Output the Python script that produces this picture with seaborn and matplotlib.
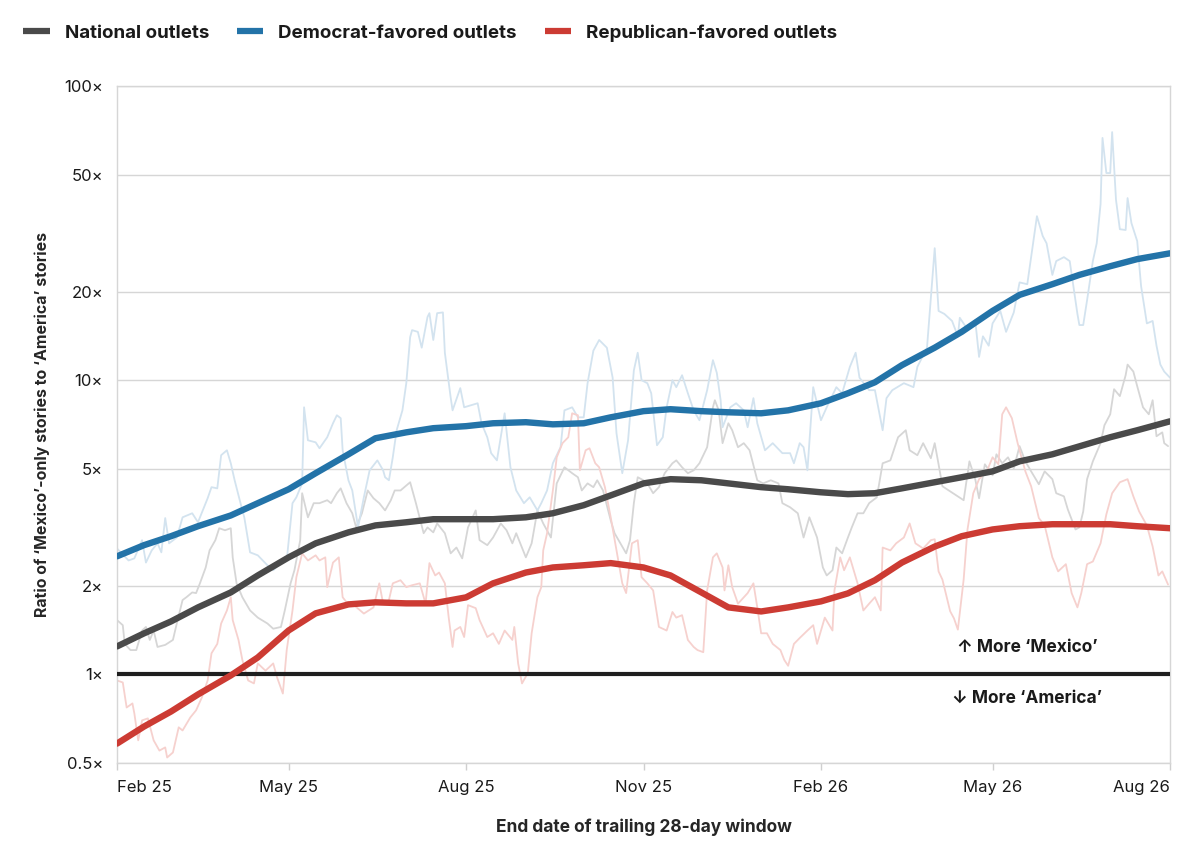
import numpy as np
import pandas as pd
import matplotlib
matplotlib.use("Agg")
import matplotlib.pyplot as plt
import matplotlib.dates as mdates
from matplotlib.lines import Line2D
from matplotlib.ticker import FixedLocator, NullLocator
import seaborn as sns

start = pd.Timestamp("2025-02-01")
end = pd.Timestamp("2026-08-01")

# smoothed trend lines, read on the 1st and 15th of every month
trend_dates = pd.date_range(start, end, freq="SMS")
national_trend = [1.245, 1.379, 1.514, 1.690, 1.900, 2.17, 2.50, 2.79, 3.04, 3.21,
                  3.29, 3.37, 3.37, 3.37, 3.42, 3.53, 3.76, 4.06, 4.46, 4.61,
                  4.57, 4.46, 4.33, 4.26, 4.16, 4.10, 4.13, 4.29, 4.50, 4.68,
                  4.90, 5.30, 5.60, 5.96, 6.40, 6.76, 7.25]
dem_trend = [2.52, 2.75, 2.95, 3.19, 3.47, 3.82, 4.26, 4.83, 5.60, 6.35,
             6.65, 6.87, 6.98, 7.14, 7.20, 7.08, 7.14, 7.48, 7.85, 7.97,
             7.85, 7.78, 7.72, 7.90, 8.35, 9.03, 9.84, 11.25, 12.9, 14.6,
             17.2, 19.5, 21.2, 22.8, 24.4, 25.8, 27.0]
rep_trend = [0.582, 0.665, 0.748, 0.855, 0.992, 1.142, 1.411, 1.613, 1.730, 1.758,
             1.744, 1.744, 1.828, 2.04, 2.22, 2.31, 2.35, 2.39, 2.31, 2.17,
             1.90, 1.69, 1.637, 1.69, 1.771, 1.886, 2.09, 2.40, 2.72, 2.95,
             3.11, 3.19, 3.24, 3.24, 3.24, 3.19, 3.14]

# raw trailing-window ratios: days after Feb 1 2025 and the ratio
national_days = [0, 3, 4, 7, 10, 13, 15, 17, 19, 21, 25, 29, 31, 34, 36, 39, 41, 43, 46, 48,
                 51, 53, 56, 59, 60, 62, 65, 69, 73, 78, 81, 85, 87, 90, 92, 95, 96, 99, 102, 105,
                 109, 111, 114, 116, 119, 122, 124, 127, 130, 133, 136, 139, 142, 144, 147, 149, 152, 155, 159, 161,
                 164, 166, 170, 173, 176, 179, 182, 186, 188, 192, 195, 199, 202, 205, 207, 212, 215, 218, 221, 225,
                 228, 232, 236, 239, 241, 244, 247, 249, 252, 256, 258, 261, 264, 266, 268, 270, 273, 275, 278, 281,
                 284, 288, 290, 293, 296, 299, 302, 306, 309, 310, 312, 314, 317, 319, 322, 325, 328, 332, 335, 339,
                 343, 345, 349, 353, 356, 359, 363, 366, 368, 371, 373, 376, 379, 381, 384, 387, 390, 394, 397, 401,
                 405, 409, 411, 415, 418, 422, 424, 426, 428, 432, 436, 439, 442, 445, 447, 450, 454, 456, 459, 462,
                 465, 468, 471, 474, 478, 481, 485, 487, 491, 493, 497, 499, 501, 503, 506, 510, 512, 515, 517, 520,
                 523, 524, 527, 529, 532, 535, 537, 539, 542, 543, 545]
national_raw = [1.53, 1.47, 1.27, 1.21, 1.21, 1.41, 1.45, 1.31, 1.41, 1.24, 1.26, 1.31, 1.49, 1.79, 1.83, 1.90, 1.89, 2.04, 2.31, 2.64,
                2.86, 3.14, 3.09, 3.14, 2.50, 2.04, 1.83, 1.65, 1.56, 1.49, 1.43, 1.45, 1.65, 2.04, 2.26, 2.86, 4.13, 3.42, 3.82, 3.82,
                3.91, 3.82, 4.13, 4.29, 3.82, 3.53, 3.16, 3.53, 4.22, 3.97, 3.82, 3.61, 3.91, 4.22, 4.22, 4.33, 4.50, 3.82, 3.02, 3.16,
                3.04, 3.26, 3.02, 2.58, 2.70, 2.48, 3.16, 3.61, 2.86, 2.75, 2.92, 3.26, 3.09, 2.79, 3.02, 2.50, 2.79, 3.61, 3.26, 2.92,
                4.46, 5.06, 4.83, 4.68, 4.22, 4.46, 4.33, 4.57, 4.22, 3.34, 3.02, 2.79, 2.58, 2.86, 3.82, 4.68, 4.57, 4.46, 4.13, 4.33,
                4.83, 5.22, 5.34, 5.06, 4.83, 4.94, 5.22, 5.92, 8.09, 8.55, 7.90, 6.11, 7.14, 6.76, 5.92, 6.11, 5.78, 4.57, 4.46, 4.57,
                4.46, 3.82, 3.70, 3.53, 2.92, 3.42, 2.92, 2.31, 2.17, 2.26, 2.70, 2.58, 2.92, 3.16, 3.53, 3.53, 3.82, 4.00, 5.22, 5.34,
                6.40, 6.76, 5.78, 5.56, 6.11, 5.43, 6.11, 5.18, 4.36, 4.19, 4.03, 3.91, 5.30, 4.61, 3.97, 5.18, 4.75, 5.60, 5.22, 5.47,
                5.02, 5.97, 5.30, 4.90, 4.43, 4.90, 4.61, 4.13, 4.03, 3.64, 3.11, 3.16, 3.58, 4.61, 5.30, 6.11, 7.03, 7.66, 9.32, 8.83,
                10.4, 11.3, 10.7, 9.54, 8.09, 7.66, 8.55, 6.45, 6.65, 6.11, 5.97]

dem_days = [0, 6, 9, 13, 15, 18, 21, 23, 25, 27, 31, 34, 39, 42, 47, 49, 52, 54, 57, 59,
            61, 65, 66, 69, 73, 78, 81, 85, 88, 91, 93, 96, 97, 99, 103, 105, 109, 112, 114, 116,
            117, 120, 122, 125, 128, 131, 135, 138, 139, 141, 143, 145, 148, 150, 152, 153, 156, 158, 161, 162,
            164, 166, 169, 170, 173, 174, 178, 180, 187, 189, 192, 194, 197, 201, 204, 207, 211, 214, 218, 220,
            223, 226, 230, 232, 236, 239, 242, 244, 247, 250, 254, 257, 259, 262, 265, 268, 270, 272, 275, 277,
            280, 283, 285, 288, 290, 293, 296, 299, 302, 306, 309, 311, 313, 314, 318, 321, 325, 327, 330, 332,
            336, 340, 345, 349, 351, 354, 356, 358, 361, 365, 368, 373, 376, 380, 383, 385, 390, 393, 397, 399,
            402, 408, 413, 415, 420, 424, 426, 429, 433, 436, 437, 441, 445, 447, 449, 452, 454, 458, 461, 465,
            468, 472, 474, 477, 480, 482, 485, 487, 491, 494, 498, 499, 501, 503, 506, 508, 510, 511, 513, 515,
            516, 518, 520, 523, 524, 526, 529, 531, 534, 537, 539, 541, 543, 546]
dem_raw = [2.68, 2.44, 2.48, 2.86, 2.40, 2.64, 2.79, 2.60, 3.40, 2.79, 2.92, 3.42, 3.53, 3.29, 3.97, 4.33, 4.29, 5.56, 5.78, 5.22,
           4.57, 3.61, 3.42, 2.60, 2.54, 2.35, 2.26, 2.39, 2.44, 3.82, 4.00, 4.46, 8.09, 6.25, 6.15, 5.87, 6.40, 7.14, 7.60, 7.43,
           5.78, 4.57, 4.22, 3.16, 4.00, 4.94, 5.34, 4.94, 4.68, 4.57, 5.47, 6.76, 7.90, 9.77, 14.0, 14.8, 14.6, 12.9, 16.4, 16.9,
           13.7, 16.9, 17.0, 12.4, 8.75, 7.90, 9.40, 8.09, 8.35, 7.14, 6.40, 5.65, 5.34, 7.72, 5.06, 4.22, 3.82, 4.00, 3.61, 3.82,
           4.22, 5.22, 5.92, 7.90, 8.09, 7.48, 7.48, 9.77, 12.6, 13.7, 12.9, 10.2, 6.60, 4.83, 6.25, 10.8, 12.4, 10.0, 9.77, 9.03,
           6.01, 6.40, 8.09, 10.0, 9.47, 10.4, 9.03, 7.90, 7.31, 9.25, 11.7, 10.6, 8.55, 6.92, 8.09, 8.35, 7.90, 6.92, 8.69, 7.14,
           5.78, 6.11, 5.65, 5.65, 5.22, 6.11, 5.92, 4.94, 9.47, 7.31, 8.09, 9.47, 9.03, 11.1, 12.4, 10.2, 9.25, 9.25, 6.76, 8.69,
           9.25, 9.77, 9.47, 11.1, 12.9, 28.1, 17.2, 16.8, 15.9, 14.1, 16.3, 14.9, 16.0, 12.0, 14.1, 13.1, 15.6, 17.2, 14.6, 17.0,
           21.5, 21.2, 26.2, 36.1, 30.9, 29.2, 22.8, 25.4, 26.2, 25.4, 16.8, 15.4, 15.4, 18.7, 25.4, 29.2, 39.7, 66.6, 50.6, 50.6,
           69.7, 41.0, 32.6, 32.4, 41.6, 34.2, 29.7, 20.9, 15.6, 15.9, 13.1, 11.3, 10.7, 10.2]

rep_days = [0, 3, 5, 8, 9, 11, 13, 16, 19, 22, 25, 26, 29, 32, 34, 38, 41, 44, 47, 49,
            52, 54, 57, 59, 60, 63, 65, 68, 71, 73, 77, 81, 83, 86, 88, 91, 93, 96, 99, 103,
            105, 108, 109, 112, 115, 117, 119, 122, 128, 133, 136, 138, 141, 143, 147, 150, 153, 157, 160, 162,
            165, 167, 170, 172, 174, 175, 178, 180, 182, 186, 188, 192, 195, 198, 201, 205, 206, 208, 210, 213,
            215, 218, 220, 221, 223, 226, 228, 231, 234, 236, 239, 240, 243, 245, 248, 250, 253, 256, 259, 262,
            264, 267, 270, 272, 275, 278, 281, 285, 288, 290, 293, 296, 299, 301, 304, 306, 309, 311, 314, 315,
            317, 319, 322, 327, 330, 332, 334, 337, 340, 344, 346, 348, 351, 354, 358, 361, 363, 367, 371, 372,
            375, 377, 380, 384, 387, 390, 393, 396, 397, 401, 404, 408, 411, 414, 418, 422, 424, 426, 428, 432,
            434, 436, 439, 441, 444, 447, 451, 454, 457, 459, 461, 464, 467, 471, 474, 478, 481, 485, 488, 492,
            495, 498, 500, 503, 506, 510, 513, 516, 520, 524, 527, 530, 534, 537, 540, 542, 545]
rep_raw = [0.954, 0.939, 0.772, 0.797, 0.737, 0.597, 0.698, 0.709, 0.597, 0.551, 0.565, 0.522, 0.543, 0.661, 0.645, 0.714, 0.755, 0.835, 0.954, 1.18,
           1.27, 1.49, 1.65, 1.83, 1.53, 1.31, 1.12, 0.954, 0.932, 1.09, 1.03, 1.09, 0.977, 0.861, 1.21, 1.65, 2.14, 2.58, 2.44, 2.54,
           2.44, 2.50, 1.98, 2.40, 2.50, 1.83, 1.76, 1.74, 1.61, 1.69, 2.04, 1.74, 1.79, 2.04, 2.09, 1.98, 2.01, 2.04, 1.74, 2.39,
           2.17, 2.22, 2.04, 1.56, 1.24, 1.41, 1.45, 1.34, 1.72, 1.68, 1.53, 1.34, 1.38, 1.27, 1.41, 1.31, 1.45, 1.09, 0.932, 1.01,
           1.38, 1.83, 1.98, 2.64, 3.02, 4.22, 5.47, 6.11, 6.40, 7.72, 7.60, 4.94, 5.78, 5.87, 5.22, 5.06, 4.33, 3.42, 2.64, 2.04,
           1.89, 2.79, 2.86, 2.14, 2.04, 1.93, 1.45, 1.41, 1.63, 1.56, 1.59, 1.31, 1.24, 1.21, 1.19, 1.93, 2.50, 2.58, 2.31, 1.93,
           2.35, 1.98, 1.74, 1.89, 2.04, 1.69, 1.38, 1.38, 1.27, 1.21, 1.12, 1.07, 1.27, 1.33, 1.41, 1.47, 1.27, 1.56, 1.41, 1.93,
           2.50, 2.26, 2.50, 2.04, 1.65, 1.74, 1.83, 1.65, 2.70, 2.64, 2.79, 2.92, 3.26, 2.79, 2.68, 2.86, 2.88, 2.24, 2.10, 1.64,
           1.55, 1.42, 2.10, 3.11, 4.13, 4.61, 4.90, 5.47, 5.18, 7.66, 8.09, 7.43, 6.11, 4.90, 4.36, 3.40, 3.21, 2.50, 2.24, 2.37,
           1.89, 1.69, 1.89, 2.37, 2.42, 2.79, 3.50, 4.13, 4.50, 4.61, 4.03, 3.58, 3.21, 2.72, 2.17, 2.24, 2.02]

series_names = ["National outlets", "Democrat-favored outlets", "Republican-favored outlets"]
series_colors = ["#4a4a4a", "#2373a8", "#cc3b33"]
faint_colors = ["#d6d6d6", "#d3e3ef", "#f6d1ce"]

y_ticks = [0.5, 1, 2, 5, 10, 20, 50, 100]
y_labels = ["0.5×", "1×", "2×", "5×", "10×", "20×", "50×", "100×"]
x_ticks = ["2025-02-01", "2025-05-01", "2025-08-01", "2025-11-01", "2026-02-01", "2026-05-01", "2026-08-01"]
x_labels = ["Feb 25", "May 25", "Aug 25", "Nov 25", "Feb 26", "May 26", "Aug 26"]

for d, v in [(national_days, national_raw), (dem_days, dem_raw), (rep_days, rep_raw)]:
    assert len(d) == len(v), (len(d), len(v))

sns.set_theme(style="white")
plt.rcParams["font.family"] = ["Inter", "DejaVu Sans"]
plt.rcParams["text.color"] = "#1a1a1a"

fig = plt.figure(figsize=(12, 8.56), dpi=100)
ax = fig.add_axes([117 / 1200, 1 - 763 / 856, 1053 / 1200, 677 / 856])

raw = [(national_days, national_raw), (dem_days, dem_raw), (rep_days, rep_raw)]
trends = [national_trend, dem_trend, rep_trend]

# faint daily lines first, under everything
for (days, vals), col in zip(raw, faint_colors):
    df = pd.DataFrame({"date": start + pd.to_timedelta(days, unit="D"), "ratio": vals})
    sns.lineplot(data=df, x="date", y="ratio", ax=ax, color=col, lw=1.3, zorder=2)

ax.axhline(1, color="#1f1f1f", lw=3, zorder=3)

for vals, col in zip(trends, series_colors):
    df = pd.DataFrame({"date": trend_dates, "ratio": vals})
    sns.lineplot(data=df, x="date", y="ratio", ax=ax, color=col, lw=4.6, zorder=4,
                 solid_capstyle="round", solid_joinstyle="round")

ax.set_yscale("log")
ax.set_ylim(0.5, 100)
ax.set_xlim(start, end)
ax.yaxis.set_major_locator(FixedLocator(y_ticks))
ax.yaxis.set_minor_locator(NullLocator())
ax.set_yticklabels(y_labels)
ax.set_xticks(pd.to_datetime(x_ticks))
ax.set_xticklabels(x_labels)
ax.xaxis.set_minor_locator(NullLocator())

ax.grid(axis="y", color="#d6d6d6", lw=1)
ax.grid(axis="x", visible=False)
for s in ax.spines.values():
    s.set_color("#d6d6d6")
    s.set_linewidth(1)
ax.tick_params(axis="y", length=0, pad=10, labelsize=12, labelcolor="#1a1a1a")
ax.tick_params(axis="x", length=5, width=1, color="#cfcfcf", pad=7, labelsize=12,
               labelcolor="#1a1a1a", bottom=True)
xl = ax.get_xticklabels()
xl[0].set_ha("left")
xl[-1].set_ha("right")

ax.set_ylabel("Ratio of ‘Mexico’-only stories to ‘America’ stories", fontsize=11.5,
              fontweight="bold")
ax.yaxis.set_label_coords(-67 / 1053, 0.5)
ax.set_xlabel("End date of trailing 28-day window", fontsize=12.5, fontweight="bold")
ax.xaxis.set_label_coords(0.5, -55 / 677)

note_x = pd.Timestamp("2026-05-19")
ax.text(note_x, 1.23, "↑ More ‘Mexico’", ha="center", va="center", fontsize=12.5,
        fontweight="bold", zorder=5)
ax.text(note_x, 0.83, "↓ More ‘America’", ha="center", va="center", fontsize=12.5,
        fontweight="bold", zorder=5)

handles = [Line2D([0], [0], color=c, lw=4.5, solid_capstyle="butt") for c in series_colors]
fig.legend(handles, series_names, loc="center left", bbox_to_anchor=(0.0195, 1 - 33 / 856),
           ncol=3, frameon=False, handlelength=1.4, handletextpad=0.8, columnspacing=1.5,
           borderaxespad=0, borderpad=0, prop={"weight": "bold", "size": 13.5})

fig.savefig("out.png", dpi=100)
